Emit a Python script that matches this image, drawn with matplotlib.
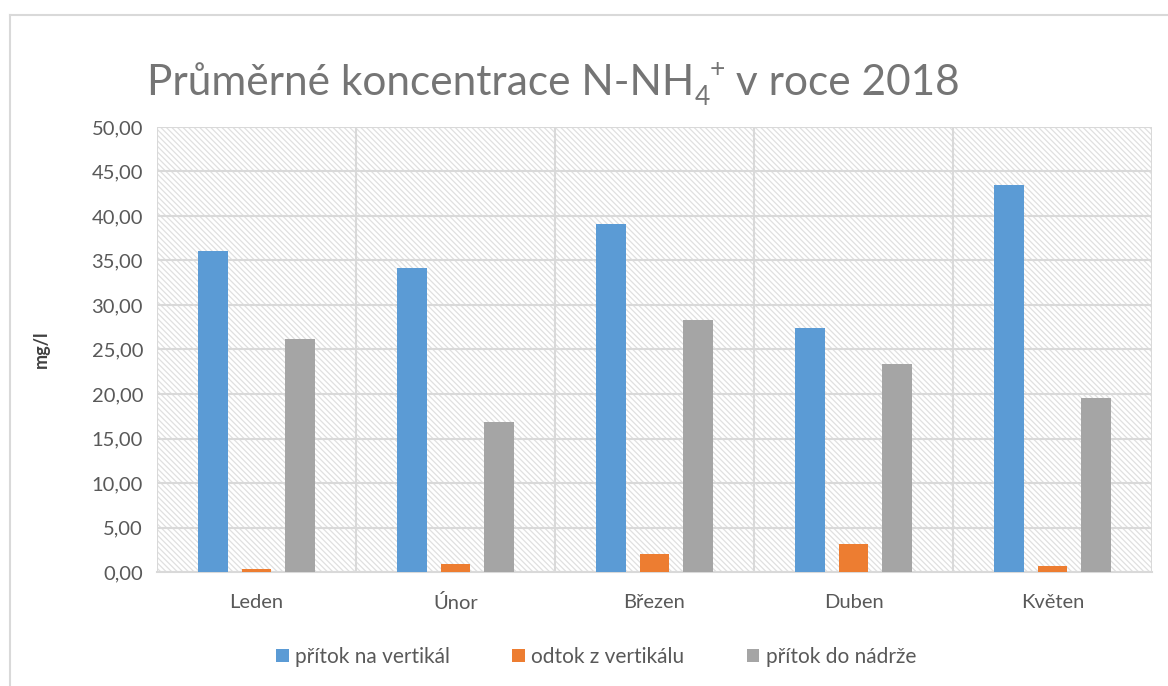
import numpy as np
import matplotlib
matplotlib.use("Agg")
import matplotlib.pyplot as plt
from matplotlib.patches import Rectangle
from matplotlib.lines import Line2D
from matplotlib.ticker import FuncFormatter
from matplotlib.transforms import offset_copy

months = ["Leden", "Únor", "Březen", "Duben", "Květen"]
series_names = ["přítok na vertikál", "odtok z vertikálu", "přítok do nádrže"]
pritok_vertikal = [36.1, 34.2, 39.1, 27.4, 43.5]
odtok_vertikal = [0.3, 0.9, 2.0, 3.1, 0.7]
pritok_nadrz = [26.2, 16.9, 28.3, 23.4, 19.6]
colors = ["#5b9bd5", "#ed7d31", "#a5a5a5"]

plt.rcParams['font.family'] = ['Lato', 'DejaVu Sans']
plt.rcParams['hatch.linewidth'] = 0.9
plt.rcParams['hatch.color'] = '#e0e0e0'

fig = plt.figure(figsize=(11.68, 6.86), dpi=100)
W, H = 1168, 686
ax = fig.add_axes([157 / W, 1 - 572 / H, (1152 - 157) / W, (572 - 127) / H])

x = np.arange(len(months))
bw = 0.15
off = 0.22
ax.add_patch(Rectangle((0, 0), 1, 1, transform=ax.transAxes, facecolor='white',
                       edgecolor='#e0e0e0', hatch='\\' * 6, linewidth=0, zorder=0))
for i, vals in enumerate([pritok_vertikal, odtok_vertikal, pritok_nadrz]):
    ax.bar(x + (i - 1) * off, vals, bw, color=colors[i], label=series_names[i], zorder=3)

ax.set_xlim(-0.5, len(months) - 0.5)
ax.set_ylim(0, 50)
ax.set_yticks(np.arange(0, 51, 5))
ax.yaxis.set_major_formatter(FuncFormatter(lambda v, p: f"{v:.2f}".replace(".", ",")))
ax.set_xticks(x)
ax.set_xticklabels(months)
ax.set_xticks(np.arange(-0.5, len(months), 1), minor=True)
ax.grid(True, axis='y', color='#d9d9d9', linewidth=1.5, zorder=1)
ax.grid(True, axis='x', which='minor', color='#d9d9d9', linewidth=1.5, zorder=1)
ax.set_axisbelow(True)
ax.tick_params(axis='both', which='both', length=0, labelsize=14.5, colors='#595959')
ax.tick_params(axis='y', pad=10)
ax.tick_params(axis='x', pad=16)
for s in ax.spines.values():
    s.set_visible(False)
ax.spines['bottom'].set_visible(True)
ax.spines['bottom'].set_color('#d9d9d9')
ax.spines['bottom'].set_linewidth(1.5)

ax.set_ylabel("mg/l", fontsize=13, fontweight='bold', color='#404040', labelpad=30)

# title built from pieces so the subscript / superscript sit like in the original
tcol = '#757575'
fig.canvas.draw()
r = fig.canvas.get_renderer()
base_y = 1 - 95 / H
t1 = fig.text(147 / W, base_y, "Průměrné koncentrace N-NH", fontsize=30.5,
              color=tcol, va='baseline', ha='left')
w1 = t1.get_window_extent(r).width
t2 = fig.text(147 / W + w1 / W, base_y - 10 / H, "4", fontsize=19, color=tcol,
              va='baseline', ha='left')
w2 = t2.get_window_extent(r).width
t3 = fig.text(147 / W + (w1 + w2) / W, base_y + 18 / H, "+", fontsize=19, color=tcol,
              va='baseline', ha='left')
w3 = t3.get_window_extent(r).width
fig.text(147 / W + (w1 + w2 + w3) / W, base_y, " v roce 2018", fontsize=30.5,
         color=tcol, va='baseline', ha='left')

ax.legend(loc='center', bbox_to_anchor=((596 - 157) / (1152 - 157), (572 - 657) / (572 - 127)),
          ncol=3, frameon=False, fontsize=15, labelcolor='#595959',
          handlelength=0.6, handleheight=0.6, handletextpad=0.3, columnspacing=3.0,
          bbox_transform=ax.transAxes)

fig.add_artist(Line2D([10 / W, 1], [1 - 15 / H, 1 - 15 / H], transform=fig.transFigure,
                      color='#d9d9d9', linewidth=1.5))
fig.add_artist(Line2D([10 / W, 10 / W], [0, 1 - 15 / H], transform=fig.transFigure,
                      color='#d9d9d9', linewidth=1.5))

fig.savefig("out.png", dpi=100)
